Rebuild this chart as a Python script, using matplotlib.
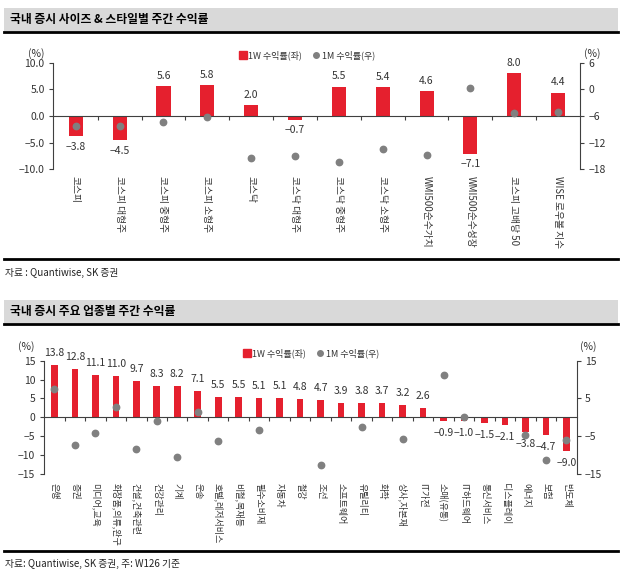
import numpy as np
import matplotlib
matplotlib.use('Agg')
import matplotlib.pyplot as plt
from matplotlib.patches import Rectangle
from matplotlib.lines import Line2D

plt.rcParams['font.family'] = ['Noto Sans CJK KR', 'DejaVu Sans']

# 사이즈 & 스타일별
size_cats = ['코스피', '코스피 대형주', '코스피 중형주', '코스피 소형주', '코스닥', '코스닥 대형주',
             '코스닥 중형주', '코스닥 소형주', 'WMI500순수가치', 'WMI500순수성장',
             '코스피 고배당 50', 'WISE 로우볼 지수']
size_1w = [-3.8, -4.5, 5.6, 5.8, 2.0, -0.7, 5.5, 5.4, 4.6, -7.1, 8.0, 4.4]
size_1m = [-8.2, -8.2, -7.4, -6.3, -15.4, -14.9, -16.4, -13.4, -14.8, 0.4, -5.3, -5.0]

# 업종별
sector_cats = ['은행', '증권', '미디어,교육', '화장품,의류,완구', '건설,건축관련', '건강관리', '기계',
               '운송', '호텔,레저서비스', '비철,목재등', '필수소비재', '자동차', '철강', '조선',
               '소프트웨어', '유틸리티', '화학', '상사,자본재', 'IT가전', '소매(유통)', 'IT하드웨어',
               '통신서비스', '디스플레이', '에너지', '보험', '반도체']
sector_1w = [13.8, 12.8, 11.1, 11.0, 9.7, 8.3, 8.2, 7.1, 5.5, 5.5, 5.1, 5.1, 4.8, 4.7,
             3.9, 3.8, 3.7, 3.2, 2.6, -0.9, -1.0, -1.5, -2.1, -3.8, -4.7, -9.0]
nan = np.nan
sector_1m = [7.6, -7.2, -4.1, 2.8, -8.5, -1.0, -10.4, 1.3, -6.3, nan, -3.3, nan, nan, -12.7,
             nan, -2.5, nan, -5.8, nan, 11.3, 0.2, nan, nan, -4.8, -11.2, -6.1]

W, H = 622, 576
RED = '#E5202E'
GRAY = '#808080'
AX = '#404040'
TXT = '#333333'

fig = plt.figure(figsize=(W / 100, H / 100), dpi=100)


def box(x, y, w, h):
    # 픽셀 좌표 -> figure 좌표
    return [x / W, 1 - (y + h) / H, w / W, h / H]


def minus(s):
    return s.replace('-', '\u2212')


def header(y_top, y_bot, title):
    fig.add_artist(Rectangle((4 / W, 1 - y_bot / H), 614 / W, (y_bot - y_top) / H,
                             transform=fig.transFigure, color='#D9D9D9', lw=0))
    fig.add_artist(Line2D([4 / W, 618 / W], [1 - (y_bot + 1) / H] * 2,
                          transform=fig.transFigure, color='black', lw=2))
    fig.text(10 / W, 1 - (y_top + y_bot) / 2 / H, title, fontsize=8.5, fontweight='bold',
             va='center', ha='left')


def footer(y_line, text):
    fig.add_artist(Line2D([4 / W, 618 / W], [1 - y_line / H] * 2,
                          transform=fig.transFigure, color='black', lw=2))
    fig.text(5 / W, 1 - (y_line + 13) / H, text, fontsize=7, va='center', ha='left',
             color='#222222')


def chart(rect, cats, v1w, v1m, ylim, yticks, y2lim, y2ticks, fmt_l, lab_gap,
          lab_pad, pct_y, leg_x, leg_y, cat_fs):
    ax = fig.add_axes(box(*rect))
    n = len(cats)
    x = np.arange(n)
    ax.bar(x, v1w, width=0.32, color=RED, zorder=2)
    for xi, v in zip(x, v1w):
        off = lab_gap if v >= 0 else -lab_gap
        ax.annotate(minus(f'{v:.1f}'), (xi, v), xytext=(0, off), textcoords='offset points',
                    ha='center', va='bottom' if v >= 0 else 'top', fontsize=7.5, color=TXT)
    ax.set_xlim(-0.52, n - 0.5)
    ax.set_ylim(*ylim)
    ax.set_yticks(yticks)
    ax.yaxis.set_major_formatter(plt.FuncFormatter(lambda v, p: minus(fmt_l % v)))
    ax.spines['top'].set_visible(False)
    ax.spines['right'].set_visible(False)
    ax.spines['bottom'].set_position(('data', 0))
    ax.spines['bottom'].set_color(AX)
    ax.spines['left'].set_color(AX)
    ax.set_xticks(x[:-1] + 0.5)
    ax.set_xticklabels([])
    ax.tick_params(axis='x', length=3, direction='out', color=AX)
    ax.tick_params(axis='y', length=3, direction='out', color=AX, labelsize=7.5,
                   labelcolor=TXT, pad=3)
    for xi, c in zip(x, cats):
        ax.text(xi, -lab_pad, c, transform=ax.get_xaxis_transform(), rotation=270,
                ha='center', va='top', fontsize=cat_fs, color=TXT)

    ax2 = ax.twinx()
    ax2.plot(x, v1m, 'o', color=GRAY, markersize=4.6, zorder=3)
    ax2.set_ylim(*y2lim)
    ax2.set_yticks(y2ticks)
    ax2.yaxis.set_major_formatter(plt.FuncFormatter(lambda v, p: minus('%d' % v)))
    for s in ['top', 'left', 'bottom']:
        ax2.spines[s].set_visible(False)
    ax2.spines['right'].set_color(AX)
    ax2.tick_params(axis='y', length=3, direction='out', color=AX, labelsize=7.5,
                    labelcolor=TXT, pad=3)

    fig.text((rect[0] - 17) / W, 1 - pct_y / H, '(%)', fontsize=7.5,
             ha='center', va='center', color=TXT)
    fig.text((rect[0] + rect[2] + 12) / W, 1 - pct_y / H, '(%)', fontsize=7.5,
             ha='center', va='center', color=TXT)
    h1 = Line2D([], [], marker='s', ls='', color=RED, markersize=5.5)
    h2 = Line2D([], [], marker='o', ls='', color=GRAY, markersize=4)
    fig.legend([h1, h2], ['1W 수익률(좌)', '1M 수익률(우)'], loc='center',
               bbox_to_anchor=(leg_x / W, 1 - leg_y / H), ncol=2, frameon=False,
               fontsize=6.5, handlelength=0.8, handletextpad=0.2, columnspacing=1.2,
               labelcolor=TXT)
    return ax, ax2


header(8, 31, '국내 증시 사이즈 & 스타일별 주간 수익률')
chart((53, 62.7, 527, 106.6), size_cats, size_1w, size_1m, (-10, 10), [10, 5, 0, -5, -10],
      (-18, 6), [6, 0, -6, -12, -18], '%.1f', 4, 0.06, 54, 307, 55, 7)
footer(259.5, '자료 : Quantiwise, SK 증권')

header(300, 322.5, '국내 증시 주요 업종별 주간 수익률')
chart((43.7, 360.7, 533, 113.3), sector_cats, sector_1w, sector_1m, (-15, 15),
      [15, 10, 5, 0, -5, -10, -15], (-15, 15), [15, 5, -5, -15], '%d', 5, 0.08,
      347, 311, 353, 6.5)
footer(551, '자료: Quantiwise, SK 증권, 주: W126 기준')

fig.savefig('out.png', dpi=100)
